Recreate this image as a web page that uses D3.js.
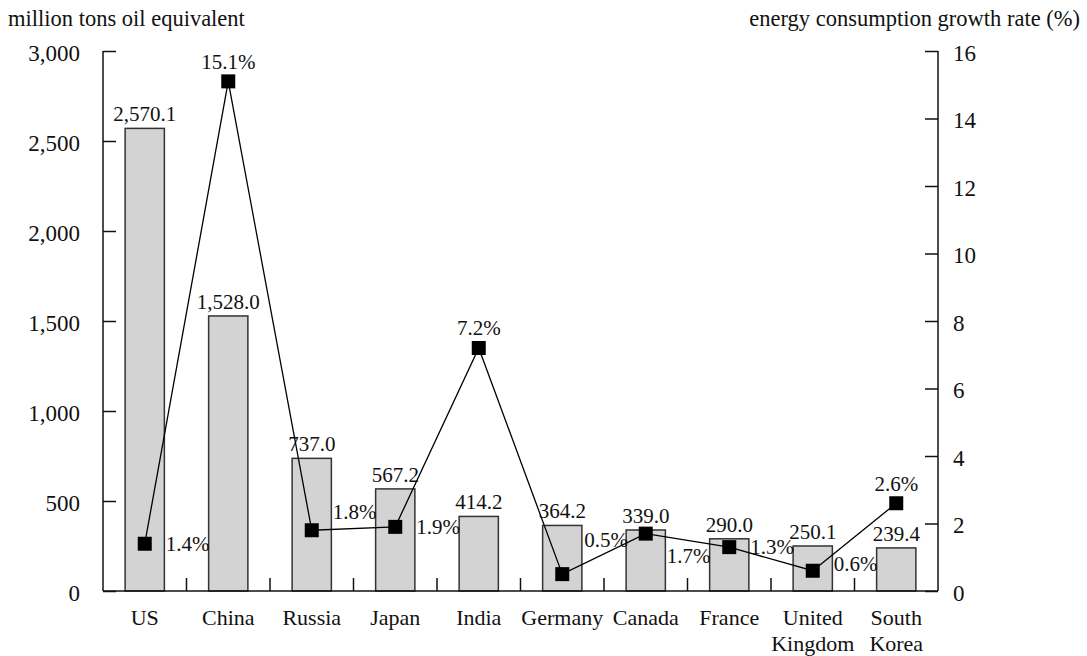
<!DOCTYPE html>
<html>
<head>
<meta charset="utf-8">
<script src="https://cdn.jsdelivr.net/npm/d3@7"></script>
<style>
  html, body { margin: 0; padding: 0; background: #fff; }
  svg { display: block; font-family: "Liberation Serif", "Times New Roman", serif; }
</style>
</head>
<body>
<svg id="chart" width="1087" height="656"></svg>
<script>
// Primary energy consumption by country (bars) and annual growth rate (line)
const countries = ["US", "China", "Russia", "Japan", "India", "Germany", "Canada", "France", "United Kingdom", "South Korea"];
const consumption = [2570.1, 1528.0, 737.0, 567.2, 414.2, 364.2, 339.0, 290.0, 250.1, 239.4];
const growthRate = [1.4, 15.1, 1.8, 1.9, 7.2, 0.5, 1.7, 1.3, 0.6, 2.6];
const leftTicks = [0, 500, 1000, 1500, 2000, 2500, 3000];
const rightTicks = [0, 2, 4, 6, 8, 10, 12, 14, 16];
// where each growth label sits relative to its marker
const rateLabelSide = ["right", "above", "upperRight", "right", "above", "upperRightHigh", "lowerRight", "right", "rightRaised", "above"];

const svg = d3.select("#chart");
const plotLeft = 103, plotRight = 938, plotTop = 51, plotBottom = 591;

const x = d3.scaleBand().domain(countries).range([plotLeft, plotRight])
  .paddingInner(0.53).paddingOuter(0.265);
const yL = d3.scaleLinear().domain([0, 3000]).range([plotBottom, plotTop]);
const yR = d3.scaleLinear().domain([0, 16]).range([plotBottom, plotTop]);
const cx = d => x(d) + x.bandwidth() / 2;
const fmtBar = d3.format(",.1f");

// bars
svg.append("g").selectAll("rect").data(consumption).join("rect")
  .attr("x", (d, i) => x(countries[i]))
  .attr("y", d => yL(d))
  .attr("width", x.bandwidth())
  .attr("height", d => plotBottom - yL(d))
  .attr("fill", "#d3d3d3")
  .attr("stroke", "#333")
  .attr("stroke-width", 1.5);

// bar value labels
svg.append("g").selectAll("text").data(consumption).join("text")
  .attr("x", (d, i) => cx(countries[i]))
  .attr("y", d => yL(d) - 7)
  .attr("text-anchor", "middle")
  .attr("font-size", 21)
  .attr("fill", "#111")
  .text(d => fmtBar(d));

// left axis
const axL = svg.append("g").attr("transform", `translate(${plotLeft},0)`)
  .call(d3.axisRight(yL).tickValues(leftTicks).tickSize(13).tickFormat(d3.format(",")));
axL.select(".domain").remove();
axL.selectAll(".tick line").attr("stroke", "#111").attr("stroke-width", 1.5);
axL.selectAll(".tick text").attr("x", -23).attr("dy", "0.4em")
  .attr("text-anchor", "end").attr("font-size", 23).attr("fill", "#111");
axL.attr("font-family", null).attr("font-size", null);

// right axis
const axR = svg.append("g").attr("transform", `translate(${plotRight},0)`)
  .call(d3.axisLeft(yR).tickValues(rightTicks).tickSize(13));
axR.select(".domain").remove();
axR.selectAll(".tick line").attr("stroke", "#111").attr("stroke-width", 1.5);
axR.selectAll(".tick text").attr("x", 15).attr("dy", "0.4em")
  .attr("text-anchor", "start").attr("font-size", 23).attr("fill", "#111");
axR.attr("font-family", null).attr("font-size", null);

// frame lines: both verticals and the baseline
const frame = svg.append("g").attr("stroke", "#111").attr("stroke-width", 1.5).attr("fill", "none");
frame.append("line").attr("x1", plotLeft).attr("x2", plotLeft).attr("y1", yL(3000)).attr("y2", plotBottom);
frame.append("line").attr("x1", plotRight).attr("x2", plotRight).attr("y1", yR(16)).attr("y2", plotBottom);
frame.append("line").attr("x1", plotLeft).attr("x2", plotRight).attr("y1", plotBottom).attr("y2", plotBottom);

// category separator ticks along the baseline
const step = x.step();
frame.selectAll("line.sep").data(countries.slice(1)).join("line")
  .attr("class", "sep")
  .attr("x1", d => x(d) - x.paddingInner() * step / 2)
  .attr("x2", d => x(d) - x.paddingInner() * step / 2)
  .attr("y1", plotBottom).attr("y2", plotBottom - 13);

// category labels, wrapped onto two lines where needed
svg.append("g").selectAll("text").data(countries).join("text")
  .attr("x", d => cx(d))
  .attr("y", 625)
  .attr("text-anchor", "middle")
  .attr("font-size", 22)
  .attr("fill", "#111")
  .each(function (d) {
    const words = d.split(" ");
    d3.select(this).selectAll("tspan").data(words).join("tspan")
      .attr("x", cx(d))
      .attr("dy", (w, j) => j === 0 ? 0 : 26)
      .text(w => w);
  });

// growth-rate line
const line = d3.line().x((d, i) => cx(countries[i])).y(d => yR(d));
svg.append("path").datum(growthRate)
  .attr("d", line).attr("fill", "none").attr("stroke", "#000").attr("stroke-width", 1.3);

// square markers
const ms = 14;
svg.append("g").selectAll("rect").data(growthRate).join("rect")
  .attr("x", (d, i) => cx(countries[i]) - ms / 2)
  .attr("y", d => yR(d) - ms / 2)
  .attr("width", ms).attr("height", ms)
  .attr("fill", "#000");

// growth-rate labels
const offsets = {
  right: [21, 0, "start"],
  rightRaised: [21, -7, "start"],
  above: [0, -20, "middle"],
  upperRight: [21, -19, "start"],
  upperRightHigh: [22, -34, "start"],
  lowerRight: [21, 22, "start"]
};
svg.append("g").selectAll("text").data(growthRate).join("text")
  .attr("x", (d, i) => cx(countries[i]) + offsets[rateLabelSide[i]][0])
  .attr("y", (d, i) => yR(d) + offsets[rateLabelSide[i]][1])
  .attr("dy", "0.35em")
  .attr("text-anchor", (d, i) => offsets[rateLabelSide[i]][2])
  .attr("font-size", 21)
  .attr("fill", "#111")
  .text(d => d.toFixed(1) + "%");

// axis titles
svg.append("text").attr("x", 8).attr("y", 26).attr("font-size", 22.5).attr("fill", "#111")
  .text("million tons oil equivalent");
svg.append("text").attr("x", 1080).attr("y", 26).attr("text-anchor", "end").attr("font-size", 22.5).attr("fill", "#111")
  .text("energy consumption growth rate (%)");
</script>
</body>
</html>
